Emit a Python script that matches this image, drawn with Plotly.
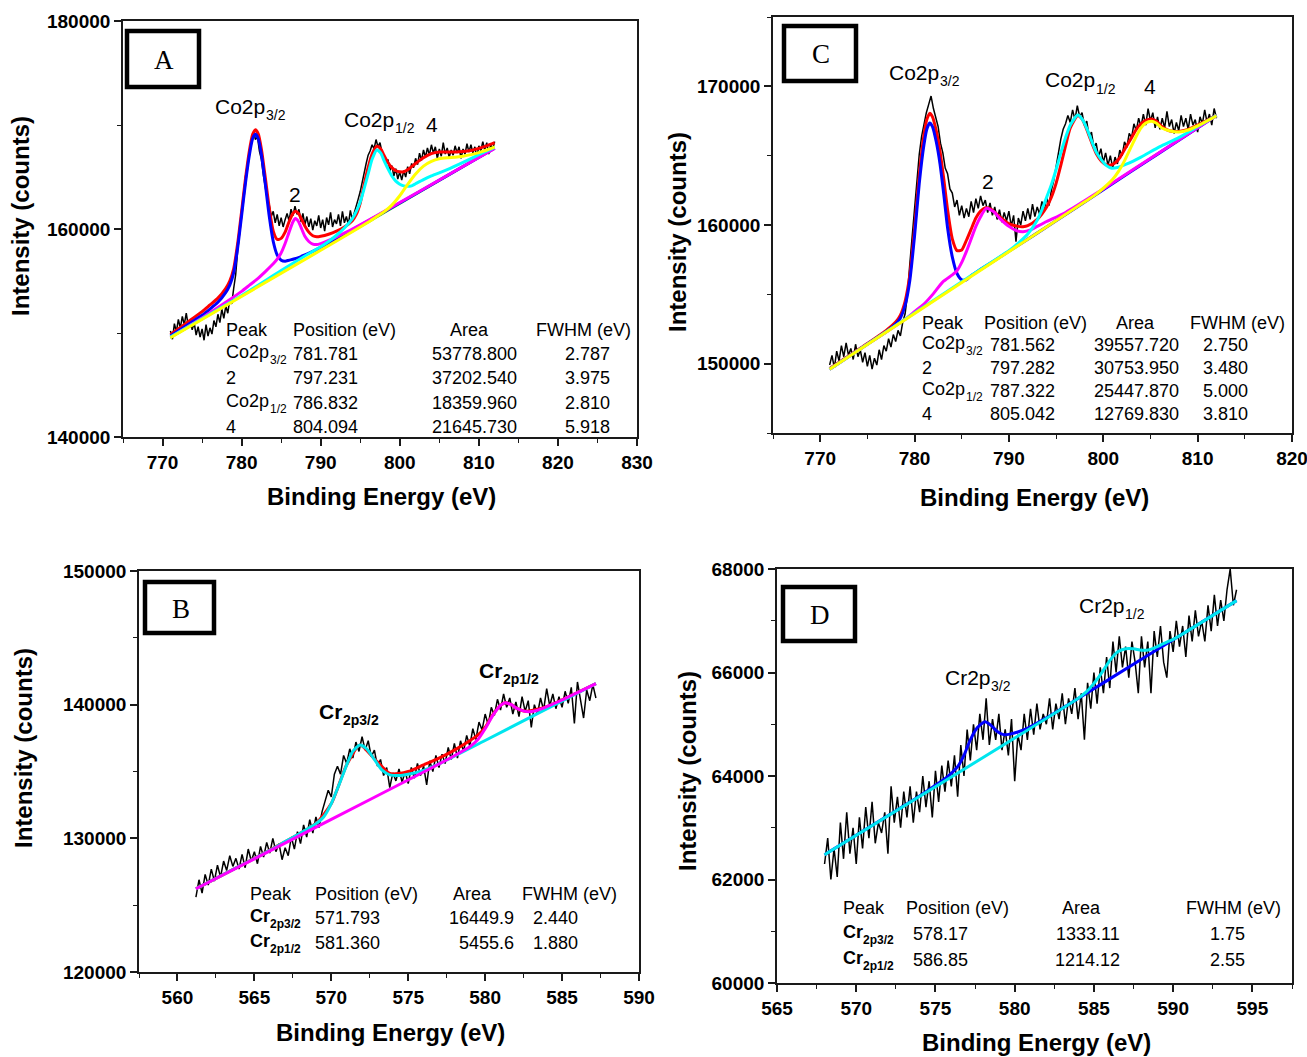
import plotly.graph_objects as go

W, H = 1307, 1057
SANS = "Liberation Sans, Arial, sans-serif"
SERIF = "Liberation Serif, Times New Roman, serif"

# ---------------- Panel A (Co2p, sample 1) ----------------
A_black_start, A_black_step = 771.0, 0.25
A_black = [150200,149400,150900,150100,151300,150500,151600,150800,151900,150700,151200,150300,151000,149800,150600,149600,
           150400,149300,150800,149700,150500,149900,151200,150600,151800,151000,152300,151400,152600,151900,153200,152800,
           154300,155600,157900,159800,161600,163500,165100,166200,167600,168200,169300,168600,168900,167500,166700,165200,
           164100,162800,162300,161200,161700,160600,161400,160300,161100,160200,160900,161500,160800,161900,161300,162200,
           161400,161900,160700,161500,160400,161200,160200,161000,159900,160800,160300,161300,160100,160900,159800,161100,
           160400,161600,160200,160900,160500,161400,160300,161700,160600,161200,160400,161800,160900,161500,162200,162900,
           163600,164600,165500,166300,167100,167500,168100,167700,168600,167900,168300,167400,167100,166200,166700,165600,
           166100,165100,165800,164800,165500,164700,165600,165000,166000,165300,166300,165900,166800,166200,167300,166600,
           167600,166900,167800,167100,168100,167300,167900,166800,167700,167000,168300,167200,167800,166900,167600,167100,
           168000,167300,167900,166800,167700,167200,168200,167400,168100,167300,167900,166900,168000,167500,168400,167600,
           168300,167200,168100,167700,168400]
A_baseline = [(771, 149500), (812, 167704)]
A_red = [(771,149850),(773,150950),(775,152050),(776,152700),(777,153350),(778,154300),(778.5,155000),(779,156200),
         (779.5,158600),(780,161700),(780.5,164900),(781,167600),(781.4,169100),(781.75,169550),(782.1,169150),(782.5,167700),
         (783,164900),(783.5,162000),(784,159800),(784.5,159000),(785,159100),(785.5,159700),(786,160700),(786.5,161500),
         (786.8,161700),(787.2,161500),(787.6,160900),(788,160300),(788.5,159700),(789,159350),(789.5,159250),(790,159300),
         (791,159500),(792,159800),(793,160200),(794,160800),(794.5,161400),(795,162500),(795.5,164300),(796,165900),
         (796.5,167200),(797.1,167950),(797.6,167700),(798,167100),(798.5,166400),(799,165900),(799.5,165600),(800,165500),
         (800.5,165500),(801,165700),(802,166300),(803,166850),(804,167250),(805,167400),(806,167400),(807,167400),
         (808,167450),(809,167550),(810,167750),(811,168000),(812,168300)]
A_blue = [(771,149700),(773,150700),(775,151700),(776,152300),(777,152950),(778,153900),(778.5,154600),(779,155800),
          (779.5,158200),(780,161300),(780.5,164500),(781,167200),(781.4,168700),(781.75,169100),(782.1,168700),(782.5,167200),
          (783,164300),(783.5,161200),(784,158800),(784.5,157500),(785,157000),(785.5,156900),(786,157000),(787,157200),
          (788,157500),(789,157850),(790,158230),(792,159060),(795,160350),(800,162500),(806,165130),(812,167760)]
A_magenta = [(771,149600),(775,151450),(778,152950),(780,154000),(781,154600),(782,155200),(783,155900),(784,156650),
             (784.5,157100),(785,157700),(785.5,158600),(786,159700),(786.5,160700),(786.8,161000),(787.2,160700),
             (787.6,160000),(788,159300),(788.5,158800),(789,158550),(789.5,158500),(790,158600),(791,158900),(792,159250),
             (794,160000),(797,161250),(800,162550),(806,165150),(812,167750)]
A_cyan = [(771,149600),(780,153600),(785,156000),(788,157400),(790,158300),(791,158800),(792,159400),(793,160100),
          (794,161000),(794.5,161700),(795,162600),(795.5,163900),(796,165300),(796.5,166700),(797.1,167600),(797.6,167300),
          (798,166600),(798.5,165800),(799,165100),(799.5,164600),(800,164300),(800.5,164150),(801,164100),(801.5,164150),
          (802,164350),(803,164750),(804,165100),(806,165700),(808,166400),(810,167150),(812,167850)]
A_yellow = [(771,149550),(790,157950),(796,160650),(797,161150),(798,161650),(799,162300),(800,163200),(801,164300),
            (802,165300),(803,166050),(804,166500),(805,166750),(806,166850),(807,166900),(808,167000),(809,167150),
            (810,167350),(811,167600),(812,167900)]
# table cells: (main text, subscript)
A_table = [[("Peak", ""), ("Position (eV)", ""), ("Area", ""), ("FWHM (eV)", "")],
           [("Co2p", "3/2"), ("781.781", ""), ("53778.800", ""), ("2.787", "")],
           [("2", ""), ("797.231", ""), ("37202.540", ""), ("3.975", "")],
           [("Co2p", "1/2"), ("786.832", ""), ("18359.960", ""), ("2.810", "")],
           [("4", ""), ("804.094", ""), ("21645.730", ""), ("5.918", "")]]

# ---------------- Panel C (Co2p, sample 2) ----------------
C_black_start, C_black_step = 771.0, 0.25
C_black = [149900,150600,149700,150900,150200,151300,150500,151500,150600,151100,150300,151400,150500,151000,150100,150800,
           149800,150600,149600,150400,149900,151000,150300,151300,150900,151800,151200,152100,151600,152400,152000,153000,
           153600,155000,157200,159300,161300,163400,165100,166400,167300,168100,168700,169300,168400,167700,167100,165900,
           165200,164100,163700,162600,162300,161300,161800,160700,161400,160500,161200,160600,161700,160900,161900,161200,
           162100,161400,161800,160900,161600,160700,161300,160400,161100,160200,160900,160300,161000,159900,160700,158800,
           160500,160000,161000,160300,161200,160400,161500,160600,161300,160800,161700,161000,162000,161400,162500,163200,
           164300,165400,166200,166900,167300,167900,167400,168300,167600,168600,167800,168100,167200,167500,166400,166700,
           165600,165900,164900,165500,164500,165200,164300,165000,164100,164900,164400,165400,165000,166000,165600,166600,
           166300,167300,166800,167700,167100,168000,167200,168400,167500,168100,167000,167800,166900,167700,167000,168200,
           167100,167600,166600,167400,166800,167900,167100,167700,166900,168000,167200,167600,166700,167800,167300,168300,
           167400,168000,167200,168400,167700]
C_red = [(771,149650),(775,151450),(777,152400),(778,153000),(778.5,153500),(779,154500),(779.5,156400),(780,159700),
         (780.5,163600),(781,166500),(781.3,167600),(781.6,168050),(781.9,167800),(782.3,166800),(782.7,165300),(783.1,163300),
         (783.5,161100),(784,159000),(784.5,158150),(785,158200),(785.5,158900),(786,159700),(786.5,160500),(787,161000),
         (787.6,161250),(788.2,161100),(789,160600),(790,160100),(791,159900),(791.5,159880),(792,159950),(793,160400),
         (794,161300),(794.5,162000),(795,163000),(795.5,164300),(796,165700),(796.5,167000),(797.3,167900),(797.8,167600),
         (798.3,166800),(798.8,165900),(799.3,165100),(799.8,164600),(800.3,164350),(800.8,164330),(801.3,164500),
         (801.8,164900),(802.3,165500),(803,166300),(803.5,166900),(804,167300),(804.5,167550),(805.1,167650),(805.6,167500),
         (806.2,167100),(807,166800),(808,166750),(809,166900),(810,167200),(811,167550),(812,167900)]
C_blue = [(771,149600),(775,151400),(777,152300),(778,152850),(778.5,153300),(779,154200),(779.5,156000),(780,159200),
          (780.5,163000),(781,165800),(781.3,166900),(781.6,167350),(781.9,167100),(782.3,166000),(782.7,164400),
          (783.1,162200),(783.5,159800),(784,157700),(784.5,156500),(785,156050),(785.5,156050),(786,156350),(787,156800),
          (790,158100),(795,160300),(800,162550),(806,165220),(812,167890)]
C_magenta = [(771,149600),(775,151400),(778,152730),(779,153200),(780,153750),(781,154300),(782,155050),(783,155900),
             (784,156400),(784.5,156700),(785,157300),(785.5,158100),(786,159000),(786.5,159900),(787,160600),(787.6,161200),
             (788.4,160950),(789,160500),(790,159900),(790.8,159600),(791.5,159520),(792.3,159650),(793,159900),(794,160250),
             (796,160900),(800,162600),(806,165250),(812,167890)]
C_cyan = [(771,149600),(785,155900),(789,157700),(790,158150),(791,158700),(792,159350),(793,160350),(793.5,161100),
          (794,162000),(794.5,162900),(795,164000),(795.5,165200),(796,166300),(796.5,167200),(797.3,167930),(797.8,167600),
          (798.3,166900),(798.8,166000),(799.3,165200),(799.8,164700),(800.3,164300),(800.9,164100),(801.5,164150),
          (802.5,164400),(804,164900),(806,165650),(808,166300),(810,167100),(812,167900)]
C_yellow = [(771,149600),(798,161650),(799,162100),(800,162650),(801,163300),(801.6,163850),(802.3,164700),(803,165700),
            (803.5,166400),(804,167000),(804.5,167350),(805.1,167480),(805.6,167350),(806.2,167000),(807,166800),
            (808,166700),(809,166850),(810,167150),(811,167500),(812,167880)]
C_table = [[("Peak", ""), ("Position (eV)", ""), ("Area", ""), ("FWHM (eV)", "")],
           [("Co2p", "3/2"), ("781.562", ""), ("39557.720", ""), ("2.750", "")],
           [("2", ""), ("797.282", ""), ("30753.950", ""), ("3.480", "")],
           [("Co2p", "1/2"), ("787.322", ""), ("25447.870", ""), ("5.000", "")],
           [("4", ""), ("805.042", ""), ("12769.830", ""), ("3.810", "")]]

# ---------------- Panel B (Cr2p, sample 1) ----------------
B_black_start, B_black_step = 561.2, 0.2
B_black = [125600,126900,125900,127300,126500,127700,126800,128000,127100,128300,127600,128700,127900,128500,127700,128800,
           127800,129200,128300,129000,128100,129400,128600,129700,128900,130000,129000,129600,128400,129300,128700,130100,
           129200,130500,129600,131000,130100,131400,130400,131600,130800,132000,132800,133600,133100,134800,135400,134800,
           136200,135600,136700,136000,137200,136500,137600,136600,137300,136100,136600,135400,135900,134700,135300,133800,
           134900,134300,135200,134200,135000,134100,135300,134500,135600,134700,135400,134000,135800,135000,136200,135300,
           136300,135600,136800,135900,137100,136000,137300,136500,137700,136900,138200,137400,138700,138100,139300,138500,
           139800,139200,140400,139600,140800,139800,140500,139300,140200,139100,140600,139500,140300,138300,140000,139300,
           140500,139600,141200,139900,140800,139700,140600,139800,141000,140100,141300,138600,141700,140400,139000,141100,
           140300,141500,140500]
B_red = [(561.2,126230),(566,129120),(569,131120),(570,132600),(571,135500),(571.86,136990),(572.8,135950),(573.8,134850),
         (574.4,134850),(575,135000),(576,135500),(577,136000),(578,136600),(579,137300),(579.5,137700),(580,138300),
         (580.5,139250),(581,139950),(581.3,140150),(581.7,140000),(582.1,139700),(582.6,139500),(584,139850),(587.2,141570)]
B_cyan = [(561.2,126230),(564,127900),(566,129100),(567,129750),(568,130400),(569,131100),(569.5,131600),(570,132600),
          (570.5,134000),(571,135500),(571.4,136500),(571.86,136980),(572.3,136700),(572.8,135900),(573.3,135100),
          (573.8,134750),(574.4,134700),(575,134800),(575.9,135050),(577,135570),(580,137320),(584,139680),(587.2,141570)]
B_magenta = [(561.2,126230),(570,131420),(576,134960),(578,136180),(579,136850),(579.5,137350),(580,138200),(580.5,139200),
             (581,139950),(581.3,140150),(581.7,140000),(582.1,139700),(582.6,139500),(583.2,139520),(584,139850),
             (585,140350),(586,140900),(587.2,141570)]
B_table = [[("Peak", ""), ("Position (eV)", ""), ("Area", ""), ("FWHM (eV)", "")],
           [("Cr", "2p3/2"), ("571.793", ""), ("16449.9", ""), ("2.440", "")],
           [("Cr", "2p1/2"), ("581.360", ""), ("5455.6", ""), ("1.880", "")]]

# ---------------- Panel D (Cr2p, sample 2) ----------------
D_black_start, D_black_step = 568.0, 0.2
D_black = [62300,62800,62000,62600,62050,63100,62400,63300,62500,63000,62300,63200,62600,63400,62800,63500,62700,63100,
           62900,63300,62500,63800,63100,63600,63000,63700,63200,63800,63100,63700,63300,64000,63400,63900,63200,64100,
           63500,64200,63700,64300,63800,64400,63600,64600,64000,64900,64300,65000,64500,65200,64700,65500,64600,65100,
           64700,65200,64500,64900,64400,65100,63900,64800,64500,65200,64700,65300,64800,65400,64900,65200,65000,65500,
           64900,65400,65100,65600,65000,65500,65200,65700,65100,65600,64700,65800,65300,66000,65400,66100,65600,66300,
           65700,66600,66000,66700,66100,66500,65900,66600,66200,65600,66700,66100,66600,65600,66800,66300,66900,66200,
           65900,66800,66400,67000,66500,66900,66300,67100,66600,67200,66700,67000,66600,67300,66800,67500,66900,67400,
           67000,67600,68000,67300,67600]
D_blue = [(568,62480),(574,63613),(575,63820),(575.8,64000),(576.4,64180),(576.8,64400),(577.2,64700),(577.6,64920),
          (578.13,65050),(578.5,64980),(578.9,64860),(579.3,64800),(579.7,64810),(580.2,64850),(580.8,64920),(582,65123),
          (586,65878),(590,66634),(594,67390)]
D_cyan = [(568,62480),(584,65501),(584.5,65620),(585,65790),(585.5,66000),(586,66230),(586.5,66400),(587,66460),
          (587.5,66460),(588,66430),(588.5,66440),(589,66500),(589.6,66590),(590,66640),(594,67390)]
D_table = [[("Peak", ""), ("Position (eV)", ""), ("Area", ""), ("FWHM (eV)", "")],
           [("Cr", "2p3/2"), ("578.17", ""), ("1333.11", ""), ("1.75", "")],
           [("Cr", "2p1/2"), ("586.85", ""), ("1214.12", ""), ("2.55", "")]]

# ---------------- figure ----------------
fig = go.Figure()


def px_dom_x(a, b):
    return [a / W, b / W]


def px_dom_y(top, bottom):
    return [1 - bottom / H, 1 - top / H]


def add_black(start, step, vals, ax):
    xs = [round(start + step * i, 3) for i in range(len(vals))]
    fig.add_trace(go.Scatter(x=xs, y=vals, mode="lines", line=dict(color="black", width=1.5),
                             xaxis="x" + ax, yaxis="y" + ax, hoverinfo="skip"))


def add_curve(pairs, color, ax, width=3):
    xs = [p[0] for p in pairs]
    ys = [p[1] for p in pairs]
    fig.add_trace(go.Scatter(x=xs, y=ys, mode="lines", line=dict(color=color, width=width, shape="spline", smoothing=0.6),
                             xaxis="x" + ax, yaxis="y" + ax, hoverinfo="skip"))


# A -> axis "" ; C -> "2" ; B -> "3" ; D -> "4"
add_black(A_black_start, A_black_step, A_black, "")
add_curve(A_baseline, "#33cc33", "", 1.2)
add_curve(A_red, "#ff0000", "")
add_curve(A_blue, "#0000ff", "")
add_curve(A_magenta, "#ff00ff", "")
add_curve(A_cyan, "#00ffff", "")
add_curve(A_yellow, "#ffff00", "")

add_black(C_black_start, C_black_step, C_black, "2")
add_curve(C_red, "#ff0000", "2")
add_curve(C_blue, "#0000ff", "2")
add_curve(C_magenta, "#ff00ff", "2")
add_curve(C_cyan, "#00ffff", "2")
add_curve(C_yellow, "#ffff00", "2")

add_black(B_black_start, B_black_step, B_black, "3")
add_curve(B_red, "#ff0000", "3")
add_curve(B_cyan, "#00e5ee", "3")
add_curve(B_magenta, "#ff00ff", "3")

add_black(D_black_start, D_black_step, D_black, "4")
add_curve(D_blue, "#0000ff", "4")
add_curve(D_cyan, "#00e5ee", "4")

TICKFONT = dict(family=SANS, size=19, color="black", weight="bold")


def axis(domain, rng, dtick, tick0, mdtick, anchor):
    return dict(domain=domain, range=rng, dtick=dtick, tick0=tick0, anchor=anchor, automargin=False,
                showline=True, linecolor="#1a1a1a", linewidth=1.6, mirror=True,
                ticks="outside", ticklen=7, tickwidth=1.6, tickcolor="#1a1a1a",
                showgrid=False, zeroline=False, tickfont=TICKFONT, ticklabelstandoff=0,
                ticklabeloverflow="allow",
                tickformat="d", separatethousands=False, exponentformat="none",
                minor=dict(ticks="outside", ticklen=4, tickwidth=1.4, tickcolor="#1a1a1a", dtick=mdtick, showgrid=False),
                fixedrange=True)


fig.update_layout(
    width=W, height=H, margin=dict(l=0, r=0, t=0, b=0, autoexpand=False),
    paper_bgcolor="white", plot_bgcolor="white", showlegend=False,
    xaxis=axis(px_dom_x(123, 637), [765, 830.001], 10, 770, 5, "y"),
    yaxis=axis(px_dom_y(21, 437), [140000, 180001], 20000, 140000, 10000, "x"),
    xaxis2=axis(px_dom_x(773, 1292), [765, 820.001], 10, 770, 5, "y2"),
    yaxis2=axis(px_dom_y(17, 433), [145000, 175000], 10000, 150000, 5000, "x2"),
    xaxis3=axis(px_dom_x(139, 639), [557.5, 590.001], 5, 560, 2.5, "y3"),
    yaxis3=axis(px_dom_y(571, 972), [120000, 150001], 10000, 120000, 5000, "x3"),
    xaxis4=axis(px_dom_x(777, 1292), [565, 597.5], 5, 565, 2.5, "y4"),
    yaxis4=axis(px_dom_y(569, 983), [60000, 68001], 2000, 60000, 1000, "x4"),
)

annotations = []
shapes = []

# Arial / Liberation Sans advance widths (1/1000 em)
REG = {"C": 722, "o": 556, "p": 556, "r": 333, "/": 278}
BLD = {"C": 722, "o": 611, "p": 611, "r": 389, "/": 278}


def text_w(s, size, bold=False):
    tab = BLD if bold else REG
    return sum(tab.get(ch, 556) for ch in s) * size / 1000.0


def ann(x, y, text, size, family=SANS, xanchor="center", yanchor="middle", angle=0, bold=False):
    d = dict(x=x / W, y=1 - y / H, xref="paper", yref="paper", text=text, showarrow=False,
             font=dict(family=family, size=size, color="black", weight="bold" if bold else "normal"),
             xanchor=xanchor, yanchor=yanchor, textangle=angle, borderpad=0)
    annotations.append(d)


def sub_label(x, y, main, sub, size, bold=False, anchor="center"):
    """main text followed by a lowered, smaller subscript; x is centre or left edge."""
    ssize = round(size * 0.68)
    wm = text_w(main, size, bold)
    ws = text_w(sub, ssize, bold) if sub else 0
    left = x - (wm + ws) / 2 if anchor == "center" else x
    ann(left, y, main, size, xanchor="left", bold=bold)
    if sub:
        ann(left + wm + 0.5, y + 0.42 * size, sub, ssize, xanchor="left", bold=bold)


# axis titles
for (x, y) in [(381, 497), (1034, 498), (390, 1032), (1036, 1042)]:
    ann(x, y, "Binding Energy (eV)", 24, bold=True)
for (x, y) in [(21, 216), (678, 232), (23, 748), (687, 771)]:
    ann(x, y, "Intensity (counts)", 24, angle=-90, bold=True)

# panel letter boxes
for (x0, y0, x1, y1, letter) in [(127, 31, 199, 87, "A"), (784, 26, 856, 81, "C"),
                                 (145, 582, 214, 633, "B"), (783, 587, 855, 641, "D")]:
    shapes.append(dict(type="rect", xref="paper", yref="paper", x0=x0 / W, x1=x1 / W,
                       y0=1 - y1 / H, y1=1 - y0 / H, line=dict(color="black", width=4.5), fillcolor="white"))
    ann((x0 + x1) / 2 + 1, (y0 + y1) / 2 + 1, letter, 27, family=SERIF)

# peak labels
sub_label(249, 106, "Co2p", "3/2", 21)
ann(295, 195, "2", 21)
sub_label(378, 119, "Co2p", "1/2", 21)
ann(432, 125, "4", 21)
sub_label(923, 72, "Co2p", "3/2", 21)
ann(988, 181, "2", 21)
sub_label(1079, 80, "Co2p", "1/2", 21)
ann(1150, 87, "4", 21)
sub_label(348, 711, "Cr", "2p3/2", 21, bold=True)
sub_label(508, 670, "Cr", "2p1/2", 21, bold=True)
sub_label(976, 677, "Cr2p", "3/2", 21)
sub_label(1110, 605, "Cr2p", "1/2", 21)


def table(rows, header_pos, value_pos, row_ys, size=18, bold_first=False):
    for r, row in enumerate(rows):
        pos = header_pos if r == 0 else value_pos
        for c, (txt, sub) in enumerate(row):
            x, xa = pos[c]
            if sub:
                sub_label(x, row_ys[r] - 2, txt, sub, size, bold=bold_first, anchor="left")
            else:
                ann(x, row_ys[r], txt, size, xanchor=xa)


table(A_table, [(225, "left"), (292, "left"), (469, "center"), (535, "left")],
      [(225, "left"), (292, "left"), (518, "right"), (611, "right")], [330, 354, 378, 403, 427])
table(C_table, [(921, "left"), (983, "left"), (1135, "center"), (1189, "left")],
      [(921, "left"), (989, "left"), (1180, "right"), (1249, "right")], [323, 345, 368, 391, 414])
table(B_table, [(249, "left"), (314, "left"), (472, "center"), (521, "left")],
      [(249, "left"), (314, "left"), (515, "right"), (579, "right")], [894, 918, 943], bold_first=True)
table(D_table, [(842, "left"), (905, "left"), (1081, "center"), (1185, "left")],
      [(842, "left"), (912, "left"), (1121, "right"), (1246, "right")], [908, 934, 960], bold_first=True)

fig.update_layout(annotations=annotations, shapes=shapes)
fig.write_html("out.html")
